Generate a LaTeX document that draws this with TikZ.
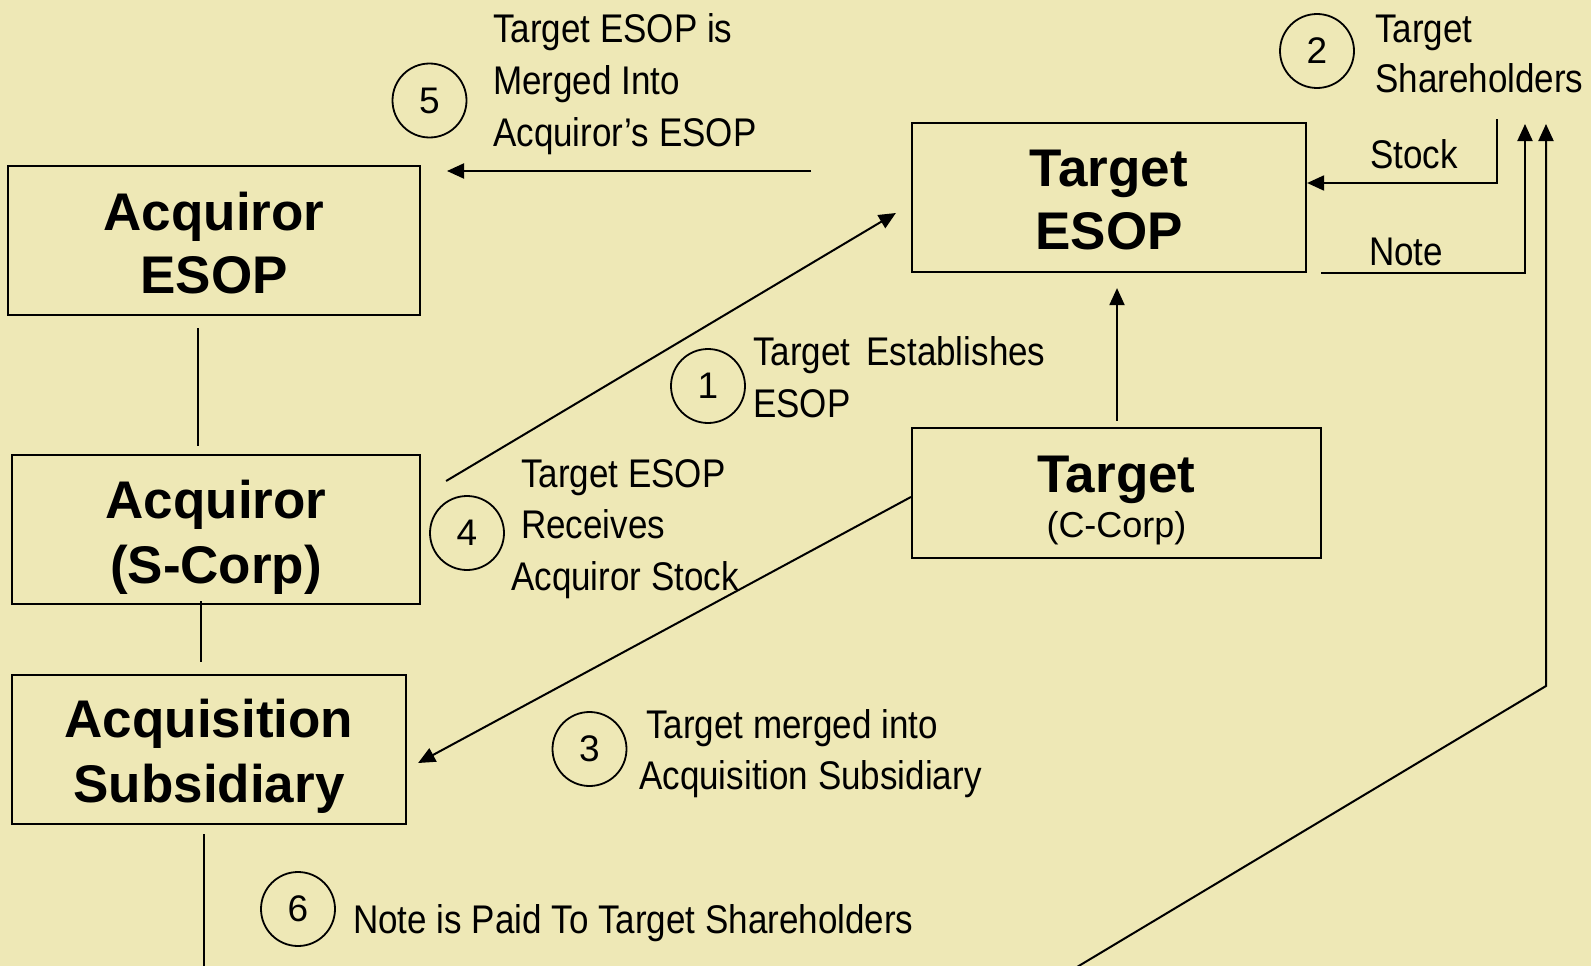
\documentclass[tikz,border=0pt]{standalone}
\usepackage{fontspec}
\setmainfont{Liberation Sans}
\newfontfamily\narrowfont[FakeStretch=0.875]{Liberation Sans}
\usetikzlibrary{arrows.meta}
\definecolor{bg}{RGB}{238,232,182}
\newcommand\cstk[1]{\begin{tabular}[t]{@{}c@{}}#1\end{tabular}}
\newcommand\lstk[1]{\begin{tabular}[t]{@{}l@{}}#1\end{tabular}}
\tikzset{
  box/.style={draw, line width=2.2pt, inner sep=0pt, text height=40pt,
    font=\fontsize{53}{63}\selectfont\bfseries},
  num/.style={circle, draw, line width=1.8pt, minimum size=74pt, inner sep=0pt,
    font=\fontsize{37}{40}\selectfont},
  lbl/.style={anchor=base west, inner sep=0pt,
    font=\narrowfont\fontsize{40}{52}\selectfont},
  conn/.style={line width=2pt},
  arr/.style={conn, -{Triangle[length=17pt 0 0,width=15pt 0 0]}}
}
\begin{document}
\begin{tikzpicture}[x=1pt,y=-1pt]
\fill[bg] (0,0) rectangle (1591,966);
\useasboundingbox (0,0) rectangle (1591,966);

% boxes
\node[box, minimum width=412pt, minimum height=149pt, text depth=61pt] (aesop) at (214,240.5) {\cstk{Acquiror\\ESOP}};
\node[box, minimum width=408pt, minimum height=149pt, text depth=63pt] (acorp) at (216,529.5) {\cstk{Acquiror\\[2pt](S-Corp)}};
\node[box, minimum width=394pt, minimum height=149pt, text depth=65pt] (asub) at (209,749.5) {\cstk{Acquisition\\[2pt]Subsidiary}};
\node[box, minimum width=394pt, minimum height=149pt, text depth=63pt] (tesop) at (1109,197.5) {\cstk{Target\\ESOP}};
\node[box, minimum width=409pt, minimum height=130pt, text depth=42pt] (tcorp) at (1116.5,493) {\cstk{Target\\[-18pt]{\mdseries\fontsize{36}{40}\selectfont (C-Corp)}}};

% numbered circles
\node[num] (c1) at (708,386) {1};
\node[num] (c2) at (1317,51) {2};
\node[num] (c3) at (589.5,749) {3};
\node[num] (c4) at (467,533) {4};
\node[num] (c5) at (429.5,100.5) {5};
\node[num] (c6) at (298,909) {6};

% labels
\node[lbl] (t5) at (493,43) {\lstk{Target ESOP is\\Merged Into\\Acquiror’s ESOP}};
\node[lbl] (t2) at (1375,43) {\lstk{Target\\[-2pt]Shareholders}};
\node[lbl] (stock) at (1370,168) {Stock};
\node[lbl] (note) at (1369,265) {Note};
\node[lbl] (t1) at (753,365) {\lstk{Target\hspace{0.4em}Establishes\\ESOP}};
\node[lbl] (t4) at (521,487) {\lstk{Target ESOP\\[-1pt]Receives\\\hspace*{-10pt}Acquiror Stock}};
\node[lbl] (t3) at (646,738) {\lstk{Target merged into\\[-1pt]\hspace*{-7pt}Acquisition Subsidiary}};
\node[lbl] (t6) at (353,933) {Note is Paid To Target Shareholders};

% free ends
\coordinate (a5s) at (811,171);
\coordinate (a5e) at (447,171);
\coordinate (stockS) at (1497,119);
\coordinate (noteE) at (1525,124);
\coordinate (longS) at (1072,970);
\coordinate (longM) at (1546,686);
\coordinate (longE) at (1546,124);
\coordinate (botS) at (204,970);

% connectors
\draw[conn] ([xshift=-16pt,yshift=-12pt]aesop.south) -- ([xshift=-18pt,yshift=8pt]acorp.north);
\draw[conn] ([xshift=-15pt,yshift=4pt]acorp.south) -- ([xshift=-8pt,yshift=12pt]asub.north);
\draw[conn] ([xshift=-5pt,yshift=-9pt]asub.south) -- (botS);
\draw[arr] (a5s) -- (a5e);
\draw[arr] ([xshift=25pt,yshift=48.5pt]acorp.east) -- ([xshift=-15pt,yshift=-15.5pt]tesop.west);
\draw[arr] ([yshift=-4pt]tcorp.west) -- ([xshift=11pt,yshift=-13.5pt]asub.east);
\draw[arr] ([xshift=0.5pt,yshift=6pt]tcorp.north) -- ([xshift=8pt,yshift=-15pt]tesop.south);
\draw[arr] (stockS) |- ([yshift=14.5pt]tesop.east);
\draw[arr] ([xshift=14pt]tesop.south east) -| (noteE);
\draw[arr] (longS) -- (longM) -- (longE);
\end{tikzpicture}
\end{document}
